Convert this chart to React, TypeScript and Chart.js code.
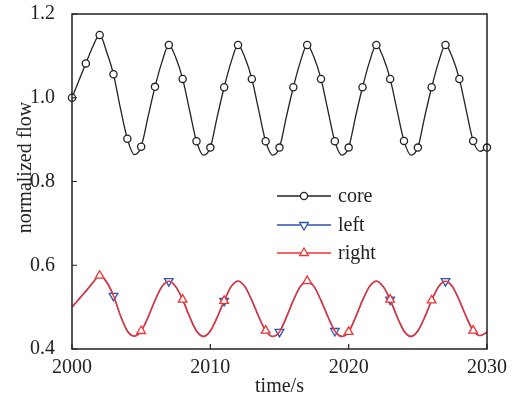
import React, { useEffect, useRef } from "react";
import { Chart, registerables } from "chart.js";

Chart.register(...registerables);

// ---- data ----
const timeValues = [
  2000, 2000.5, 2001, 2001.5, 2002, 2002.5, 2003, 2003.5, 2004, 2004.5,
  2005, 2005.5, 2006, 2006.5, 2007, 2007.5, 2008, 2008.5, 2009, 2009.5,
  2010, 2010.5, 2011, 2011.5, 2012, 2012.5, 2013, 2013.5, 2014, 2014.5,
  2015, 2015.5, 2016, 2016.5, 2017, 2017.5, 2018, 2018.5, 2019, 2019.5,
  2020, 2020.5, 2021, 2021.5, 2022, 2022.5, 2023, 2023.5, 2024, 2024.5,
  2025, 2025.5, 2026, 2026.5, 2027, 2027.5, 2028, 2028.5, 2029, 2029.5,
  2030,
];

const coreValues = [
  1.0, 1.041, 1.082, 1.122, 1.15, 1.11, 1.056, 0.975, 0.902, 0.864,
  0.883, 0.955, 1.026, 1.085, 1.126, 1.096, 1.045, 0.97, 0.896, 0.863,
  0.881, 0.955, 1.025, 1.085, 1.126, 1.096, 1.045, 0.97, 0.896, 0.863,
  0.881, 0.955, 1.025, 1.085, 1.126, 1.096, 1.045, 0.97, 0.896, 0.863,
  0.881, 0.955, 1.025, 1.085, 1.126, 1.096, 1.045, 0.97, 0.897, 0.863,
  0.881, 0.955, 1.025, 1.085, 1.126, 1.096, 1.045, 0.97, 0.897, 0.872,
  0.881,
];

const leftValues = [
  0.5, 0.519, 0.538, 0.558, 0.575, 0.56, 0.527, 0.48, 0.443, 0.431,
  0.443, 0.476, 0.516, 0.549, 0.562, 0.549, 0.518, 0.477, 0.443, 0.43,
  0.443, 0.476, 0.515, 0.549, 0.562, 0.549, 0.516, 0.477, 0.444, 0.43,
  0.441, 0.476, 0.516, 0.549, 0.562, 0.549, 0.516, 0.477, 0.443, 0.43,
  0.441, 0.476, 0.516, 0.549, 0.562, 0.549, 0.518, 0.477, 0.443, 0.43,
  0.443, 0.476, 0.516, 0.549, 0.562, 0.549, 0.516, 0.477, 0.444, 0.432,
  0.44,
];

const rightValues = [
  0.5, 0.519, 0.538, 0.558, 0.575, 0.56, 0.527, 0.48, 0.443, 0.431,
  0.443, 0.476, 0.516, 0.549, 0.562, 0.549, 0.518, 0.477, 0.443, 0.43,
  0.443, 0.476, 0.515, 0.549, 0.562, 0.549, 0.516, 0.477, 0.444, 0.43,
  0.441, 0.476, 0.516, 0.549, 0.562, 0.549, 0.516, 0.477, 0.443, 0.43,
  0.441, 0.476, 0.516, 0.549, 0.562, 0.549, 0.518, 0.477, 0.443, 0.43,
  0.443, 0.476, 0.516, 0.549, 0.562, 0.549, 0.516, 0.477, 0.444, 0.432,
  0.44,
];

const coreMarkerTimes = [
  2000, 2001, 2002, 2003, 2004, 2005, 2006, 2007, 2008, 2009, 2010,
  2011, 2012, 2013, 2014, 2015, 2016, 2017, 2018, 2019, 2020,
  2021, 2022, 2023, 2024, 2025, 2026, 2027, 2028, 2029, 2030,
];
const leftMarkerTimes = [2003, 2007, 2011, 2015, 2019, 2023, 2027];
const rightMarkerTimes = [2002, 2005, 2008, 2011, 2014, 2017, 2020, 2023, 2026, 2029];

const seriesNames = ["core", "left", "right"];
const xTickValues = [2000, 2010, 2020, 2030];
const yTickValues = [0.4, 0.6, 0.8, 1.0, 1.2];
const xAxisTitle = "time/s";
const yAxisTitle = "normalized flow";

// ---- styles ----
const FONT = "'Liberation Serif', 'Times New Roman', serif";
const INK = "#222222";
const CORE_COLOR = "#222222";
const LEFT_COLOR = "rgb(45,85,180)";
const RIGHT_COLOR = "rgb(236,52,52)";

const seriesStyles = [
  { color: CORE_COLOR, style: "circle", radius: 3.6, rotation: 0, lineWidth: 1.3 },
  { color: LEFT_COLOR, style: "triangle", radius: 5, rotation: 180, lineWidth: 1.4 },
  { color: RIGHT_COLOR, style: "triangle", radius: 5, rotation: 0, lineWidth: 1.5 },
];

function drawMarker(ctx: CanvasRenderingContext2D, s: any, x: number, y: number) {
  ctx.save();
  ctx.beginPath();
  if (s.style === "circle") {
    ctx.arc(x, y, s.radius, 0, Math.PI * 2);
  } else {
    let rad = (s.rotation * Math.PI) / 180;
    const r = s.radius;
    ctx.moveTo(x + Math.sin(rad) * r, y - Math.cos(rad) * r);
    rad += (2 * Math.PI) / 3;
    ctx.lineTo(x + Math.sin(rad) * r, y - Math.cos(rad) * r);
    rad += (2 * Math.PI) / 3;
    ctx.lineTo(x + Math.sin(rad) * r, y - Math.cos(rad) * r);
    ctx.closePath();
  }
  ctx.fillStyle = "#ffffff";
  ctx.fill();
  ctx.lineWidth = 1.3;
  ctx.strokeStyle = s.color;
  ctx.stroke();
  ctx.restore();
}

const framePlugin = {
  id: "frameAndTicks",
  afterDatasetsDraw(chart: any) {
    const { ctx, chartArea: a, scales } = chart;
    ctx.save();
    ctx.strokeStyle = INK;
    ctx.lineWidth = 1.5;
    ctx.strokeRect(a.left, a.top, a.right - a.left, a.bottom - a.top);
    ctx.lineWidth = 1.2;
    ctx.beginPath();
    for (const v of xTickValues) {
      const px = scales.x.getPixelForValue(v);
      ctx.moveTo(px, a.bottom);
      ctx.lineTo(px, a.bottom - 5);
    }
    for (const v of yTickValues) {
      const py = scales.y.getPixelForValue(v);
      ctx.moveTo(a.left, py);
      ctx.lineTo(a.left + 5, py);
    }
    ctx.stroke();

    // axis titles
    ctx.fillStyle = INK;
    ctx.font = `20px ${FONT}`;
    ctx.textAlign = "center";
    ctx.textBaseline = "alphabetic";
    ctx.fillText(xAxisTitle, (a.left + a.right) / 2, 392);
    ctx.save();
    ctx.translate(31, 167.5);
    ctx.rotate(-Math.PI / 2);
    ctx.fillText(yAxisTitle, 0, 0);
    ctx.restore();

    // legend
    const rowsY = [196, 225, 253];
    const x0 = a.left + 205;
    const x1 = a.left + 259;
    seriesNames.forEach((name, i) => {
      const s = seriesStyles[i];
      const y = rowsY[i];
      ctx.strokeStyle = s.color;
      ctx.lineWidth = s.lineWidth;
      ctx.beginPath();
      ctx.moveTo(x0, y);
      ctx.lineTo(x1, y);
      ctx.stroke();
      drawMarker(ctx, s, (x0 + x1) / 2, y);
      ctx.fillStyle = INK;
      ctx.font = `20px ${FONT}`;
      ctx.textAlign = "left";
      ctx.textBaseline = "alphabetic";
      ctx.fillText(name, x1 + 7, y + 5.5);
    });
    ctx.restore();
  },
};

function makeDataset(label: string, values: number[], markerTimes: number[], idx: number, order: number) {
  const s = seriesStyles[idx];
  return {
    label,
    data: timeValues.map((t, i) => ({ x: t, y: values[i] })),
    borderColor: s.color,
    borderWidth: s.lineWidth,
    backgroundColor: "#ffffff",
    pointBackgroundColor: "#ffffff",
    pointBorderColor: s.color,
    pointBorderWidth: 1.3,
    pointStyle: s.style,
    pointRotation: s.rotation,
    pointRadius: timeValues.map((t) => (markerTimes.includes(t) ? s.radius : 0)),
    pointHoverRadius: timeValues.map((t) => (markerTimes.includes(t) ? s.radius : 0)),
    cubicInterpolationMode: "monotone" as const,
    fill: false,
    clip: false as const,
    order,
  };
}

export default function App() {
  const canvasRef = useRef<HTMLCanvasElement | null>(null);

  useEffect(() => {
    if (!canvasRef.current) return;
    const chart = new Chart(canvasRef.current, {
      type: "line",
      data: {
        datasets: [
          makeDataset(seriesNames[0], coreValues, coreMarkerTimes, 0, 0),
          makeDataset(seriesNames[1], leftValues, leftMarkerTimes, 1, 2),
          makeDataset(seriesNames[2], rightValues, rightMarkerTimes, 2, 1),
        ],
      },
      options: {
        animation: false,
        responsive: false,
        events: [],
        layout: { padding: { left: 0, top: 14, right: 31, bottom: 0 } },
        plugins: { legend: { display: false }, tooltip: { enabled: false } },
        scales: {
          x: {
            type: "linear",
            min: 2000,
            max: 2030,
            grid: { display: false },
            border: { display: false },
            afterFit: (scale: any) => {
              scale.height = 54;
              scale.paddingLeft = 0;
              scale.paddingRight = 0;
            },
            afterBuildTicks: (scale: any) => {
              scale.ticks = xTickValues.map((v) => ({ value: v }));
            },
            ticks: {
              autoSkip: false,
              maxRotation: 0,
              padding: -1,
              color: INK,
              font: { family: FONT, size: 20 },
              callback: (v: any) => String(v),
            },
          },
          y: {
            type: "linear",
            min: 0.4,
            max: 1.2,
            grid: { display: false },
            border: { display: false },
            afterFit: (scale: any) => {
              scale.width = 72;
              scale.paddingTop = 0;
              scale.paddingBottom = 0;
            },
            afterBuildTicks: (scale: any) => {
              scale.ticks = yTickValues.map((v) => ({ value: v }));
            },
            ticks: {
              autoSkip: false,
              padding: 9,
              color: INK,
              font: { family: FONT, size: 20 },
              callback: (v: any) => Number(v).toFixed(1),
            },
          },
        },
      },
      plugins: [framePlugin],
    });
    return () => chart.destroy();
  }, []);

  return (
    <div style={{ position: "absolute", left: 0, top: 0, width: 518, height: 403, background: "#fff" }}>
      <canvas ref={canvasRef} width={518} height={403} style={{ display: "block" }} />
    </div>
  );
}
